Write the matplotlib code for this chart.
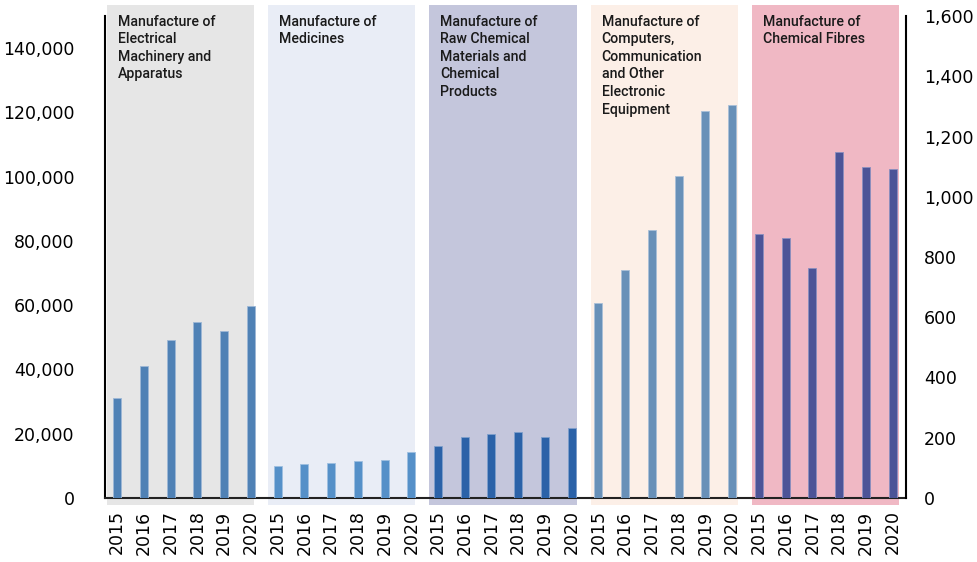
import matplotlib
matplotlib.use("Agg")
import matplotlib.pyplot as plt
from matplotlib.patches import Rectangle
from matplotlib.ticker import FuncFormatter
import numpy as np

years = ["2015", "2016", "2017", "2018", "2019", "2020"]
industries = [
    "Manufacture of\nElectrical\nMachinery and\nApparatus",
    "Manufacture of\nMedicines",
    "Manufacture of\nRaw Chemical\nMaterials and\nChemical\nProducts",
    "Manufacture of\nComputers,\nCommunication\nand Other\nElectronic\nEquipment",
    "Manufacture of\nChemical Fibres",
]
electrical = [31000, 41200, 49300, 54800, 51900, 59700]
medicines = [10100, 10500, 10800, 11500, 11800, 14400]
raw_chemical = [16200, 19100, 19900, 20600, 19100, 21700]
computers = [60700, 71000, 83400, 100300, 120400, 122200]
# chemical fibres are read on the right-hand axis
fibres = [876, 864, 762, 1150, 1099, 1091]

bar_colors = ["#4f81b5", "#5590c8", "#2b62a8", "#6890b8", "#4c5497"]
edge_colors = ["#9db7d6", "#9dbfe0", "#7f9fcc", "#a9c0d8", "#8a8fc0"]
bg_colors = ["#e6e6e6", "#e9edf6", "#c4c6dc", "#fcefe7", "#f0b8c4"]

fig = plt.figure(figsize=(9.78, 5.62), dpi=100)
ax = fig.add_axes([0.1074, 0.1139, 0.8190, 0.8576])
ax2 = ax.twinx()

left_series = [electrical, medicines, raw_chemical, computers]
n = len(years)
width = 0.3

for k in range(5):
    x0 = k * n
    band_left = k * 6.025 - 0.37
    # background band for each industry, running a little past the axes
    ax.add_patch(Rectangle((band_left, -0.0145), 5.5, 1.038,
                           transform=ax.get_xaxis_transform(),
                           facecolor=bg_colors[k], edgecolor="none",
                           clip_on=False, zorder=0))
    ax.text(band_left + 0.41, 1.003, industries[k],
            transform=ax.get_xaxis_transform(),
            ha="left", va="top", fontsize=10.2, family="Roboto",
            fontweight="medium", color="#1a1a1a", linespacing=1.33, zorder=5)
    xs = np.arange(n) + x0
    if k < 4:
        ax.bar(xs, left_series[k], width=width, color=bar_colors[k],
               edgecolor=edge_colors[k], linewidth=0.6, zorder=3)
    else:
        ax2.bar(xs, fibres, width=width, color=bar_colors[k],
                edgecolor=edge_colors[k], linewidth=0.6, zorder=3)

ax.set_xlim(-0.45, 29.5)
ax.set_ylim(0, 150000)
ax2.set_ylim(0, 1600)

ax.set_xticks(np.arange(5 * n))
ax.set_xticklabels(years * 5, rotation=90, fontsize=12.5)
ax.set_yticks(np.arange(0, 140001, 20000))
ax.yaxis.set_major_formatter(FuncFormatter(lambda v, p: f"{int(v):,}"))
ax2.set_yticks(np.arange(0, 1601, 200))
ax2.yaxis.set_major_formatter(FuncFormatter(lambda v, p: f"{int(v):,}"))

ax.tick_params(axis="x", length=0, pad=9)
ax.tick_params(axis="y", length=0, pad=22, labelsize=12.5)
ax2.tick_params(axis="y", length=0, pad=13, labelsize=12.5)

for a in (ax, ax2):
    a.spines["top"].set_visible(False)
ax2.patch.set_visible(False)
ax.spines["right"].set_visible(False)
ax2.spines["left"].set_visible(False)
ax2.spines["bottom"].set_visible(False)
ax.spines["left"].set_linewidth(1.5)
ax.spines["bottom"].set_linewidth(1.5)
ax.spines["bottom"].set_color("#222222")
ax2.spines["right"].set_linewidth(1.5)

fig.savefig("out.png", dpi=100)
